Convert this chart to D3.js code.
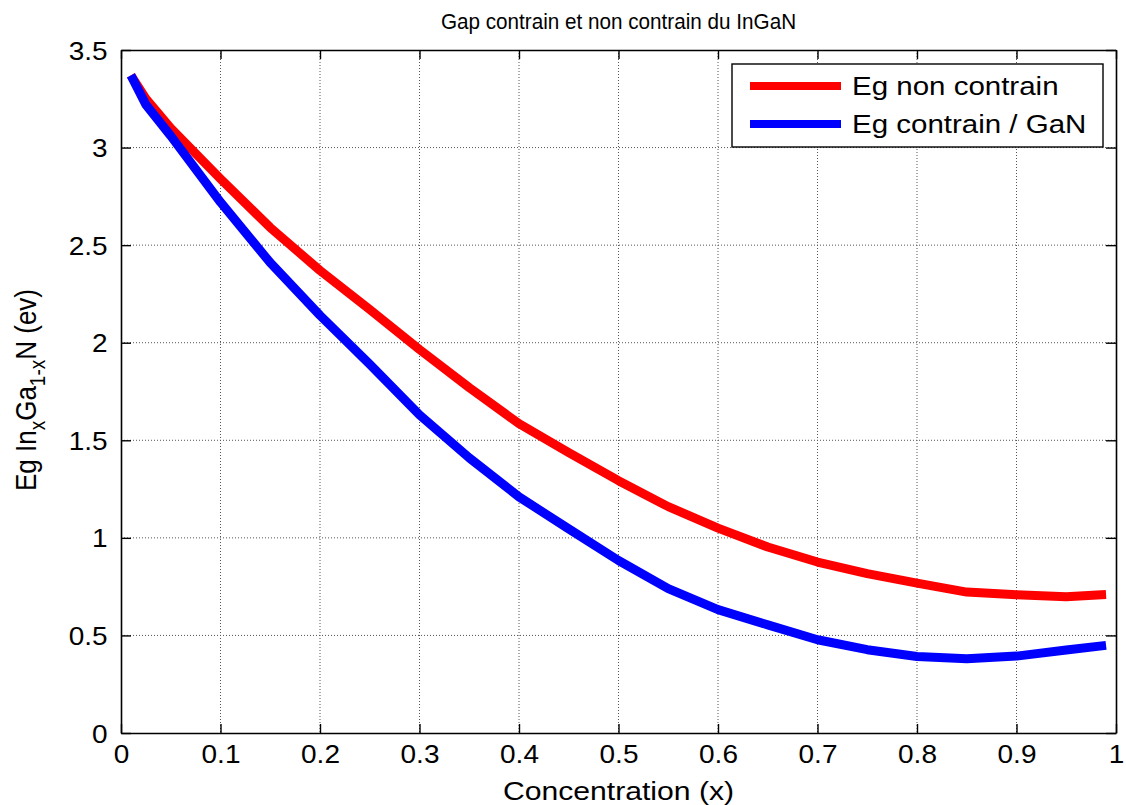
<!DOCTYPE html>
<html lang="fr">
<head>
    <meta charset="UTF-8">
    <title>Gap contrain et non contrain du InGaN</title>
    <script src="https://cdn.jsdelivr.net/npm/d3@7/dist/d3.min.js"></script>
    <style>
        body { margin: 0; background: #fff; }
        text { font-family: "Liberation Sans", Arial, Helvetica, sans-serif; fill: #000; }
    </style>
</head>
<body>
<div class="chart"></div>
<script>
    // concentration x
    const concentration = [0.01, 0.025, 0.05, 0.1, 0.15, 0.2, 0.25, 0.3, 0.35, 0.4, 0.45, 0.5,
        0.55, 0.6, 0.65, 0.7, 0.75, 0.8, 0.85, 0.9, 0.95, 0.99]
    const egNonContrain = [3.37, 3.25, 3.10, 2.84, 2.59, 2.37, 2.17, 1.965, 1.77, 1.585, 1.437, 1.293,
        1.16, 1.05, 0.953, 0.876, 0.817, 0.768, 0.722, 0.708, 0.698, 0.71]
    const egContrain = [3.37, 3.22, 3.06, 2.72, 2.41, 2.14, 1.89, 1.63, 1.41, 1.21, 1.046, 0.884,
        0.74, 0.632, 0.554, 0.478, 0.427, 0.392, 0.381, 0.394, 0.425, 0.449]
    const xTicks = [0, 0.1, 0.2, 0.3, 0.4, 0.5, 0.6, 0.7, 0.8, 0.9, 1]
    const yTicks = [0, 0.5, 1, 1.5, 2, 2.5, 3, 3.5]
    const seriesNames = ['Eg non contrain', 'Eg contrain / GaN']
    const seriesColors = ['#ff0000', '#0000ff']

    const width = 1126
    const height = 805
    const margin = { top: 50, right: 10, bottom: 72, left: 121 }
    const innerW = width - margin.left - margin.right
    const innerH = height - margin.top - margin.bottom
    const stretch = 1.12

    const svg = d3.select('.chart').append('svg')
        .attr('width', width)
        .attr('height', height)

    const x = d3.scaleLinear().domain([0, 1]).range([0, innerW])
    const y = d3.scaleLinear().domain([0, 3.5]).range([innerH, 0])

    const g = svg.append('g').attr('transform', `translate(${margin.left},${margin.top})`)

    // grid
    const grid = g.append('g').attr('class', 'grid')
    grid.selectAll('.gx').data(xTicks.slice(1, -1)).enter().append('line')
        .attr('x1', d => x(d)).attr('x2', d => x(d))
        .attr('y1', 0).attr('y2', innerH)
    grid.selectAll('.gy').data(yTicks.slice(1, -1)).enter().append('line')
        .attr('x1', 0).attr('x2', innerW)
        .attr('y1', d => y(d)).attr('y2', d => y(d))
    grid.selectAll('line')
        .attr('stroke', '#555').attr('stroke-width', 1)
        .attr('stroke-dasharray', '1,2')

    // axes, ticks inward on all four sides
    const fmt = d => String(d)
    const xAxis = g.append('g').attr('transform', `translate(0,${innerH})`)
        .call(d3.axisBottom(x).tickValues(xTicks).tickFormat(fmt).tickSizeInner(-9).tickSizeOuter(0).tickPadding(30))
    const yAxis = g.append('g')
        .call(d3.axisLeft(y).tickValues(yTicks).tickFormat(fmt).tickSizeInner(-10).tickSizeOuter(0).tickPadding(12))
    g.append('g')
        .call(d3.axisTop(x).tickValues(xTicks).tickFormat('').tickSizeInner(-9).tickSizeOuter(0))
    g.append('g').attr('transform', `translate(${innerW},0)`)
        .call(d3.axisRight(y).tickValues(yTicks).tickFormat('').tickSizeInner(-10).tickSizeOuter(0))
    g.selectAll('.domain').attr('stroke', '#000').attr('stroke-width', 1.6)
    g.selectAll('.tick line').attr('stroke', '#000').attr('stroke-width', 1.4)
    xAxis.selectAll('text').attr('font-size', 25).attr('dy', 0)
        .attr('transform', `scale(${stretch},1)`)
    yAxis.selectAll('text').attr('font-size', 25).attr('dy', '0.36em')
        .attr('transform', `scale(${stretch},1)`)

    // curves
    const line = d3.line().x(d => x(d[0])).y(d => y(d[1]))
    const series = [egNonContrain, egContrain]
    g.selectAll('.curve').data(series).enter().append('path')
        .attr('class', 'curve')
        .attr('fill', 'none')
        .attr('stroke', (d, i) => seriesColors[i])
        .attr('stroke-width', 9)
        .attr('stroke-linejoin', 'round')
        .attr('d', d => line(concentration.map((c, i) => [c, d[i]])))

    // title and labels
    svg.append('text')
        .attr('transform', `translate(${margin.left + innerW / 2},29) scale(0.94,1)`)
        .attr('text-anchor', 'middle').attr('font-size', 22)
        .text('Gap contrain et non contrain du InGaN')
    svg.append('text')
        .attr('transform', `translate(${margin.left + innerW / 2},800) scale(1.16,1)`)
        .attr('text-anchor', 'middle').attr('font-size', 26)
        .text('Concentration (x)')
    const yl = svg.append('text')
        .attr('transform', `translate(36,${margin.top + 340}) scale(${stretch},1) rotate(-90)`)
        .attr('text-anchor', 'middle').attr('font-size', 26)
    yl.append('tspan').text('Eg In')
    yl.append('tspan').attr('font-size', 19).attr('dy', 8).text('x')
    yl.append('tspan').attr('dy', -8).text('Ga')
    yl.append('tspan').attr('font-size', 19).attr('dy', 8).text('1-x')
    yl.append('tspan').attr('dy', -8).text('N (ev)')

    // legend
    const legend = svg.append('g').attr('transform', 'translate(732,64)')
    legend.append('rect')
        .attr('width', 371).attr('height', 83)
        .attr('fill', '#fff').attr('stroke', '#000').attr('stroke-width', 1.4)
    const items = legend.selectAll('.item').data(seriesNames).enter().append('g')
        .attr('transform', (d, i) => `translate(0,${22 + i * 38})`)
    items.append('line')
        .attr('x1', 18).attr('x2', 109)
        .attr('stroke', (d, i) => seriesColors[i]).attr('stroke-width', 8)
    items.append('text')
        .attr('transform', 'translate(120,0) scale(1.18,1)')
        .attr('dy', '0.36em').attr('font-size', 25)
        .text(d => d)
</script>
</body>
</html>
